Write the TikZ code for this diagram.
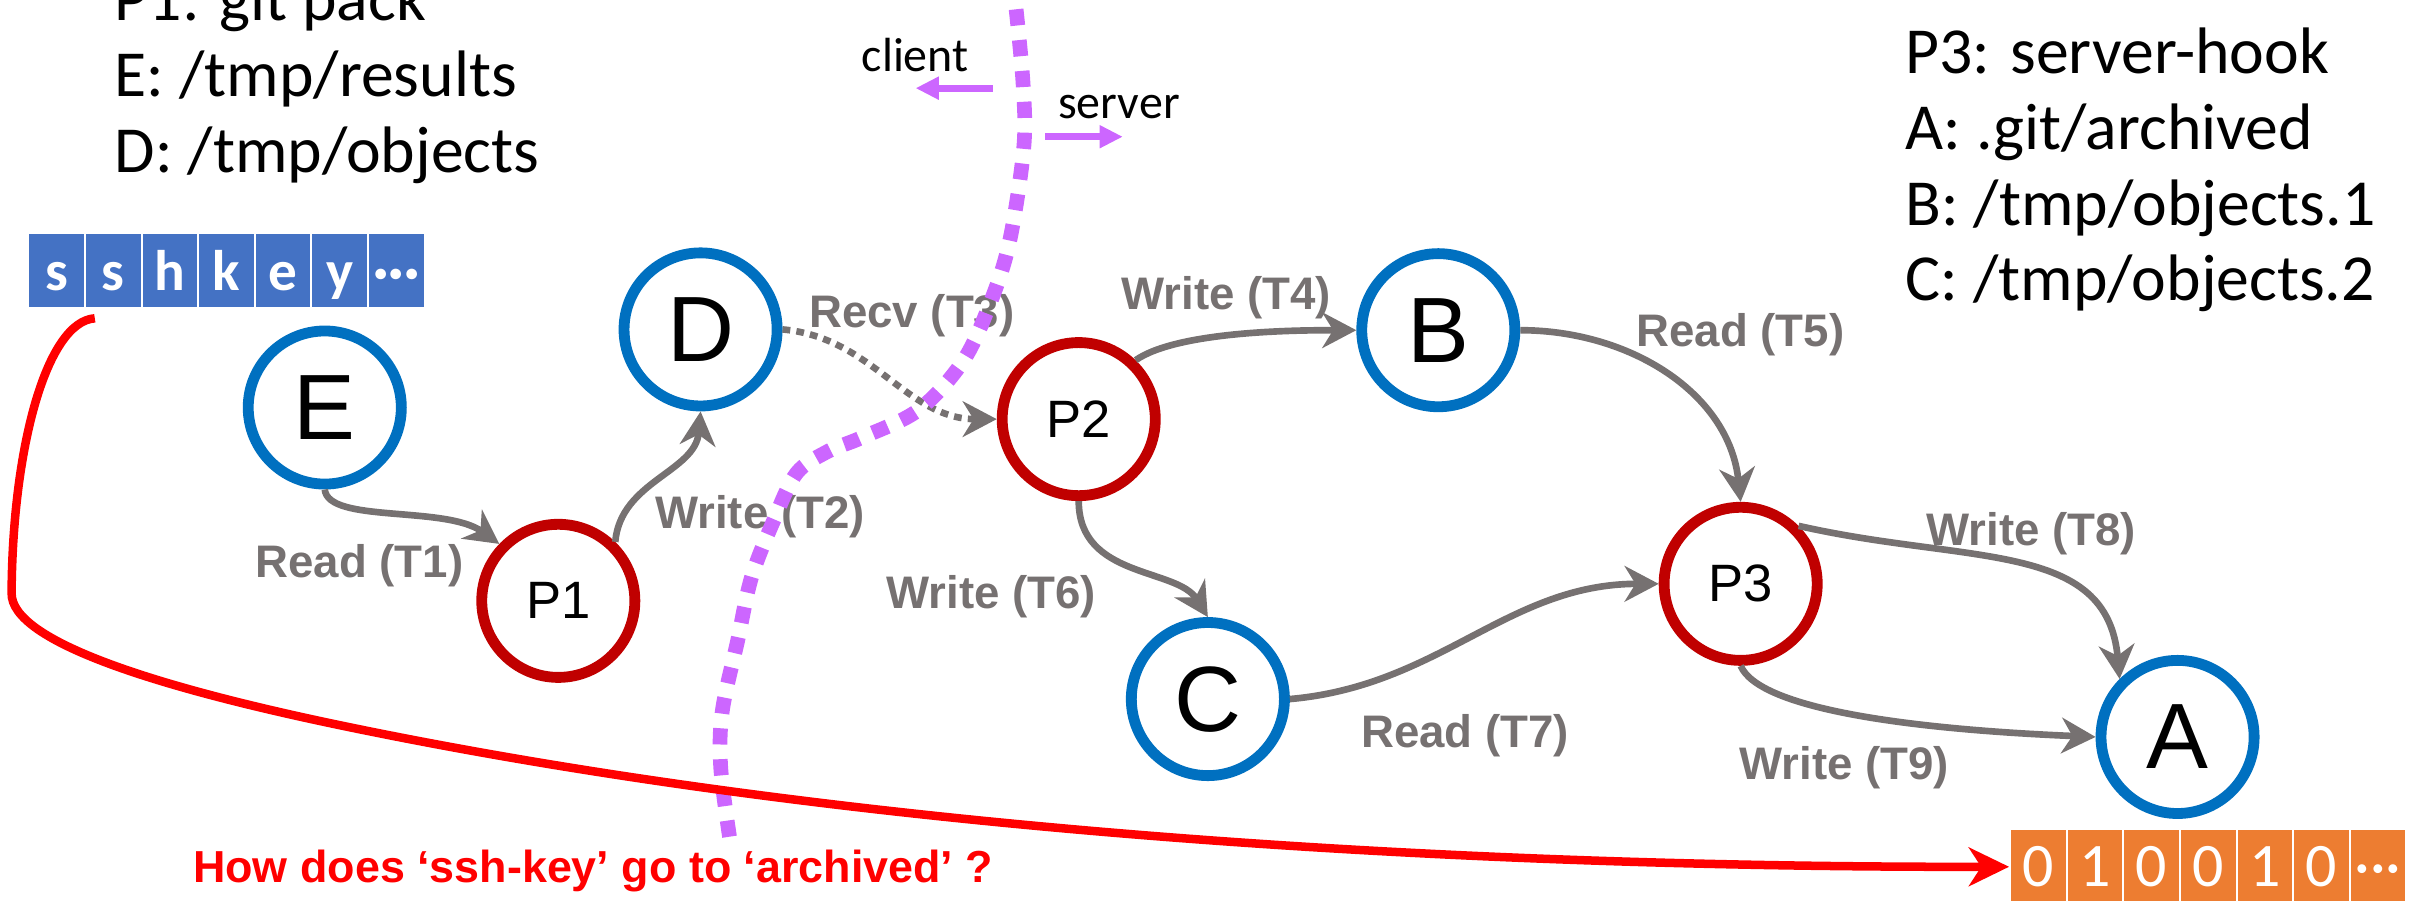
\documentclass[tikz,border=0pt]{standalone}
\usepackage{fontspec}
\setmainfont{Liberation Sans}
\newfontfamily\calfont{Carlito}
\usetikzlibrary{arrows.meta}

\definecolor{fileblue}{HTML}{0070C0}
\definecolor{procred}{HTML}{C00000}
\definecolor{flowgray}{HTML}{767171}
\definecolor{borderpurple}{HTML}{CC66FF}
\definecolor{keyblue}{HTML}{4472C4}
\definecolor{bitorange}{HTML}{ED7D31}

\begin{document}
\begin{tikzpicture}[x=1pt,y=1pt]
  \tikzset{filestyle/.style={circle, draw=fileblue, line width=7pt, minimum size=99pt, inner sep=0pt, font=\fontsize{60}{60}\selectfont},
    procstyle/.style={circle, draw=procred, line width=7pt, minimum size=99pt, inner sep=0pt, font=\fontsize{34}{34}\selectfont},
    flowstyle/.style={draw=flowgray, line width=4.3pt, -{Stealth[length=22pt,width=23pt,inset=7pt]}},
    labelstyle/.style={text=flowgray, font=\fontsize{29.5}{30}\selectfont\bfseries, anchor=base west, inner sep=0pt},
    legendstyle/.style={font=\calfont\fontsize{42.5}{44}\selectfont, anchor=base west, inner sep=0pt},
    sidestyle/.style={font=\calfont\fontsize{31}{31}\selectfont, anchor=base west, inner sep=0pt},
    cellstyle/.style={draw=white, line width=1.3pt, minimum width=36.6pt, minimum height=48.8pt, inner sep=0pt, text=white, text height=26pt, text depth=0pt},
    keystyle/.style={cellstyle, fill=keyblue, font=\calfont\fontsize{37}{37}\selectfont\bfseries},
    bitstyle/.style={cellstyle, fill=bitorange, font=\calfont\fontsize{40}{40}\selectfont},
    borderstyle/.style={draw=borderpurple, line width=9.5pt, dash pattern=on 10.5pt off 9.5pt},
    sidearrow/.style={draw=borderpurple, line width=4.5pt, -{Triangle[length=15pt,width=14pt]}},
    redflow/.style={draw=red, line width=5.5pt, -{Stealth[length=26pt,width=25pt,inset=8pt]}},
    questionstyle/.style={text=red, font=\fontsize{29}{30}\selectfont\bfseries, anchor=base west, inner sep=0pt}}
  \useasboundingbox (0,0) rectangle (1568,-582);

  % Legends
  \foreach \txt [count=\i] in {P1: git pack, E: /tmp/results, D: /tmp/objects}
    \node[legendstyle] (legl\i) at (74,{-13.5-49*(\i-1)}) {\txt};
  \foreach \txt [count=\i] in {P3: server-hook, A: .git/archived, B: /tmp/objects.1, C: /tmp/objects.2}
    \node[legendstyle] (legr\i) at (1232,{-47.5-49*(\i-1)}) {\txt};

  % Key bytes and archived bits
  \foreach \c [count=\i] in {s,s,h,k,e,y,···}
    \node[keystyle] (k\i) at ({36.7+36.6*(\i-1)},-174.75) {\c};
  \foreach \c [count=\i] in {0,1,0,0,1,0,···}
    \node[bitstyle] (b\i) at ({1318+36.6*(\i-1)},-560.45) {\c};

  % Files and processes
  \node[filestyle] (E) at (210,-263.5) {E};
  \node[procstyle] (P1) at (361,-388.5) {P1};
  \node[filestyle] (D) at (453,-213) {D};
  \node[procstyle] (P2) at (697.5,-271) {P2};
  \node[filestyle] (B) at (930,-213.5) {B};
  \node[filestyle] (C) at (781,-452) {C};
  \node[procstyle] (P3) at (1125.5,-377.5) {P3};
  \node[filestyle] (A) at (1408,-476.5) {A};

  % Reads and writes
  \draw[flowstyle] (E.south) .. controls +(2,-22) and +(-35,25) .. (P1.136);
  \draw[flowstyle] (P1.46) to[out=85,in=-95] (D.south);
  \draw[flowstyle, dash pattern=on 5pt off 4pt] (D.east) to[out=-5,in=180] (P2.west);
  \draw[flowstyle] (P2.46) to[out=35,in=180,looseness=0.6] (B.west);
  \draw[flowstyle] (B.east) to[out=0,in=96] (P3.north);
  \draw[flowstyle] (P2.south) .. controls +(0,-50) and +(-20,32) .. (C.north);
  \draw[flowstyle] (C.east) to[out=5,in=180] (P3.west);
  \draw[flowstyle] (P3.45) .. controls +(110,-25) and +(-8,90) .. (A.135);
  \draw[flowstyle] (P3.south) .. controls +(12,-28) and +(-120,5) .. (A.west);

  \node[labelstyle] (lblT1) at (165,-373.5) {Read (T1)};
  \node[labelstyle] (lblT2) at (423.5,-341.5) {Write (T2)};
  \node[labelstyle] (lblT3) at (523,-212) {Recv (T3)};
  \node[labelstyle] (lblT4) at (725,-200.4) {Write (T4)};
  \node[labelstyle] (lblT5) at (1058,-224) {Read (T5)};
  \node[labelstyle] (lblT6) at (573,-393.3) {Write (T6)};
  \node[labelstyle] (lblT7) at (880,-483) {Read (T7)};
  \node[labelstyle] (lblT8) at (1245.5,-352.8) {Write (T8)};
  \node[labelstyle] (lblT9) at (1124.5,-504.3) {Write (T9)};

  % client / server boundary
  \draw[borderstyle] plot[smooth, tension=0.55] coordinates {(657,-6) (661.5,-54) (662,-95) (653,-155) (641,-194) (623,-233) (594,-265) (557,-283) (535,-292) (515,-306) (500.5,-336) (486,-373) (477,-414) (467,-460) (466,-496) (471.7,-541)};
  \node[sidestyle] (clientlbl) at (557,-46) {client};
  \node[sidestyle] (serverlbl) at (684,-76.5) {server};
  \coordinate (clienttail) at (642,-57);
  \coordinate (clienthead) at (592,-57);
  \coordinate (servertail) at (676,-88.4);
  \coordinate (serverhead) at (726,-88.4);
  \draw[sidearrow] (clienttail) -- (clienthead);
  \draw[sidearrow] (servertail) -- (serverhead);

  % ssh-key to archived
  \draw[redflow] ([xshift=-12pt,yshift=-6pt]k2.south)
    .. controls (30,-208) and (8,-290) .. (7.5,-383.5)
    .. controls (7,-415) and (104,-445) .. (224,-469.8)
    .. controls (524,-531.9) and (900,-561) .. (b1.west);
  \node[questionstyle] (question) at (124.7,-570.7) {How does ‘ssh-key’ go to ‘archived’ ?};
\end{tikzpicture}
\end{document}
